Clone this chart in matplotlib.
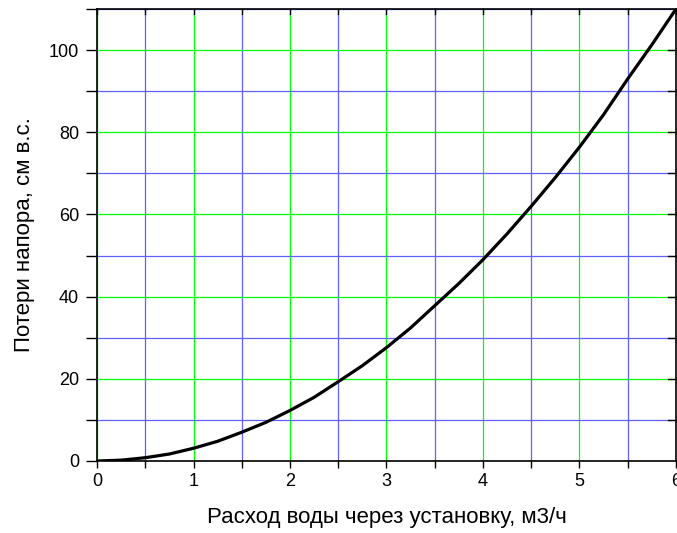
import matplotlib
matplotlib.use('Agg')
import matplotlib.pyplot as plt
from matplotlib.ticker import MultipleLocator
import numpy as np

plt.rcParams['font.family'] = ['Liberation Sans', 'DejaVu Sans']

# values
flow = [0, 0.25, 0.5, 0.75, 1, 1.25, 1.5, 1.75, 2, 2.25, 2.5, 2.75, 3,
        3.25, 3.5, 3.75, 4, 4.25, 4.5, 4.75, 5, 5.25, 5.5, 5.75, 6]
loss = [0, 0.2, 0.8, 1.7, 3.1, 4.8, 7.0, 9.4, 12.3, 15.5, 19.3, 23.2, 27.6,
        32.4, 37.8, 43.2, 49.0, 55.3, 62.0, 69.0, 76.4, 84.3, 93.0, 101.3, 110.0]

x_label = 'Расход воды через установку, м3/ч'
y_label = 'Потери напора, см в.с.'

fig = plt.figure(figsize=(6.77, 5.33), dpi=100)
ax = fig.add_axes([0.1433, 0.1351, 0.8552, 0.848])

ax.plot(flow, loss, color='black', linewidth=2.3, zorder=3,
        solid_joinstyle='round')

ax.set_xlim(0, 6)
ax.set_ylim(0, 110)

ax.xaxis.set_major_locator(MultipleLocator(1))
ax.xaxis.set_minor_locator(MultipleLocator(0.5))
ax.yaxis.set_major_locator(MultipleLocator(20))
ax.yaxis.set_minor_locator(MultipleLocator(10))

ax.grid(which='major', color='#00ff00', linewidth=0.9)
ax.grid(which='minor', color='#6060ff', linewidth=0.9)
ax.set_axisbelow(True)

ax.tick_params(which='both', direction='out', width=1,
               labelsize=13, top=False, right=False)
ax.tick_params(axis='x', which='both', length=5, pad=4)
ax.tick_params(axis='y', which='both', length=8, pad=5)

# inward ticks on the top and right edges
for xv in np.arange(0, 6.01, 0.5):
    ax.plot([xv, xv], [110, 110 - 110 * 5 / 452], color='black', lw=1, clip_on=False, zorder=4)
for yv in np.arange(10, 110, 10):
    ax.plot([6, 6 - 6 * 8 / 579], [yv, yv], color='black', lw=1, clip_on=False, zorder=4)

for s in ax.spines.values():
    s.set_linewidth(1.2)

ax.set_xlabel(x_label, fontsize=16, labelpad=12)
ax.set_ylabel(y_label, fontsize=16, labelpad=10)

fig.savefig('out.png', dpi=100)
